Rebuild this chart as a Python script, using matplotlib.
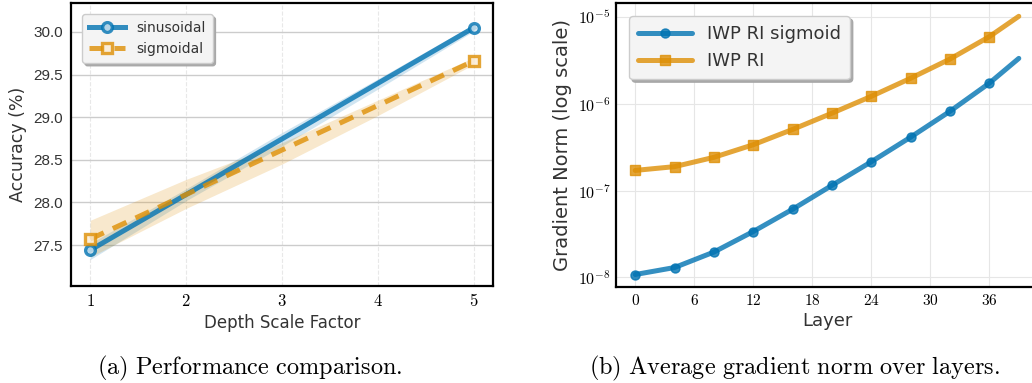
import numpy as np
import matplotlib
matplotlib.use('Agg')
import matplotlib.pyplot as plt
from matplotlib.ticker import FixedLocator, FuncFormatter

plt.rcParams['mathtext.fontset'] = 'cm'
plt.rcParams['font.family'] = 'DejaVu Sans'

# accuracy vs depth scale factor
depth = [1, 5]
acc_sin = [27.44, 30.05]
acc_sig = [27.57, 29.66]
# confidence bands, read at each integer scale factor
band_x = [1, 2, 3, 4, 5]
sin_lo = [27.33, 28.02, 28.66, 29.33, 30.01]
sin_hi = [27.52, 28.16, 28.82, 29.45, 30.09]
sig_lo = [27.36, 27.93, 28.45, 29.02, 29.62]
sig_hi = [27.79, 28.27, 28.70, 29.20, 29.70]

# gradient norm per layer
layers = [0, 4, 8, 12, 16, 20, 24, 28, 32, 36, 39]
gn_sigmoid = [1.08e-8, 1.30e-8, 1.96e-8, 3.38e-8, 6.1e-8, 1.15e-7,
              2.15e-7, 4.13e-7, 8.2e-7, 1.73e-6, 3.34e-6]
gn_ri = [1.71e-7, 1.89e-7, 2.42e-7, 3.38e-7, 5.07e-7, 7.8e-7,
         1.22e-6, 1.97e-6, 3.28e-6, 5.94e-6, 1.02e-5]
layer_ticks = [0, 6, 12, 18, 24, 30, 36]

BLUE = '#0173b2'
ORANGE = '#de8f05'

fig = plt.figure(figsize=(10.32, 3.83), dpi=100)
ax1 = fig.add_axes([0.0688, 0.2533, 0.4089, 0.739])
ax2 = fig.add_axes([0.5969, 0.2507, 0.4089, 0.7415])


def style_frame(ax):
    for s in ax.spines.values():
        s.set_color('black')
        s.set_linewidth(1.6)
    ax.set_axisbelow(True)
    ax.tick_params(length=0, pad=6)


# left panel
style_frame(ax1)
ax1.grid(axis='y', color='#cccccc', lw=1.0, ls='-')
ax1.grid(axis='x', color='#e8e8e8', lw=0.8, ls='--')
ax1.fill_between(band_x, sin_lo, sin_hi, color=BLUE, alpha=0.18, lw=0)
ax1.fill_between(band_x, sig_lo, sig_hi, color=ORANGE, alpha=0.2, lw=0)
ax1.plot(depth, acc_sin, color=BLUE, alpha=0.8, lw=3.6, marker='o', ms=7,
         mew=2.4, mfc='#d4e6f1', mec=BLUE, label='sinusoidal')
ax1.plot(depth, acc_sig, color=ORANGE, alpha=0.8, lw=3.6, ls=(0, (3, 2)),
         marker='s', ms=7, mew=2.4, mfc='#fbecd4', mec=ORANGE,
         label='sigmoidal')
ax1.set_xlim(0.8, 5.2)
ax1.set_ylim(27.02, 30.34)
ax1.xaxis.set_major_locator(FixedLocator([1, 2, 3, 4, 5]))
ax1.xaxis.set_major_formatter(FuncFormatter(lambda v, p: '$%d$' % v))
ax1.set_yticks([27.5, 28.0, 28.5, 29.0, 29.5, 30.0])
ax1.set_yticklabels(['27.5', '28.0', '28.5', '29.0', '29.5', '30.0'],
                    family='Liberation Sans', fontsize=11, color='#333333')
ax1.tick_params(axis='x', labelsize=12, pad=4)
ax1.set_xlabel('Depth Scale Factor', fontsize=12, color='#333333',
               labelpad=3)
ax1.set_ylabel('Accuracy (%)', fontsize=12.5, color='#333333', labelpad=4)
ax1.legend(loc='upper left', fontsize=10, handlelength=2.6, fancybox=True,
           framealpha=1, facecolor='#f4f4f4', edgecolor='#cccccc',
           shadow={'color': '#a8a8a8', 'alpha': 1}, borderpad=0.5,
           labelcolor='#333333', bbox_to_anchor=(0.01, 0.985))

# right panel
style_frame(ax2)
ax2.grid(True, color='#e6e6e6', lw=0.8)
ax2.set_yscale('log')
ax2.plot(layers, gn_sigmoid, color=BLUE, alpha=0.8, lw=3.6, marker='o',
         ms=6.5, markevery=slice(0, 10), solid_capstyle='round',
         label='IWP RI sigmoid')
ax2.plot(layers, gn_ri, color=ORANGE, alpha=0.8, lw=3.6, marker='s',
         ms=6.5, markevery=slice(0, 10), solid_capstyle='round',
         label='IWP RI')
ax2.set_xlim(-1.95, 40.95)
ax2.set_ylim(10 ** -8.11, 10 ** -4.838)
ax2.xaxis.set_major_locator(FixedLocator(layer_ticks))
ax2.xaxis.set_major_formatter(FuncFormatter(lambda v, p: '$%d$' % v))
ax2.yaxis.set_major_locator(FixedLocator([1e-8, 1e-7, 1e-6, 1e-5]))
ax2.yaxis.set_major_formatter(
    FuncFormatter(lambda v, p: '$10^{%d}$' % round(np.log10(v))))
ax2.yaxis.set_minor_locator(FixedLocator([]))
ax2.tick_params(axis='x', labelsize=11, pad=4)
ax2.tick_params(axis='y', labelsize=11.5, pad=4)
ax2.set_xlabel('Layer', fontsize=13, color='#333333', labelpad=3)
ax2.set_ylabel('Gradient Norm (log scale)', fontsize=14, color='#333333',
               labelpad=4)
ax2.legend(loc='upper left', fontsize=13, handlelength=3, fancybox=True,
           framealpha=1, facecolor='#f4f4f4', edgecolor='#cccccc',
           shadow={'color': '#a8a8a8', 'alpha': 1}, borderpad=0.5,
           labelcolor='#333333', bbox_to_anchor=(0.01, 0.985))

# subfigure captions
fig.text(0.2418, 0.037, r'$\mathrm{(a)\ Performance\ comparison.}$',
         ha='center', va='center', fontsize=17.5)
fig.text(0.7694, 0.037,
         r'$\mathrm{(b)\ Average\ gradient\ norm\ over\ layers.}$',
         ha='center', va='center', fontsize=17.5)

fig.savefig('out.png', dpi=100)
